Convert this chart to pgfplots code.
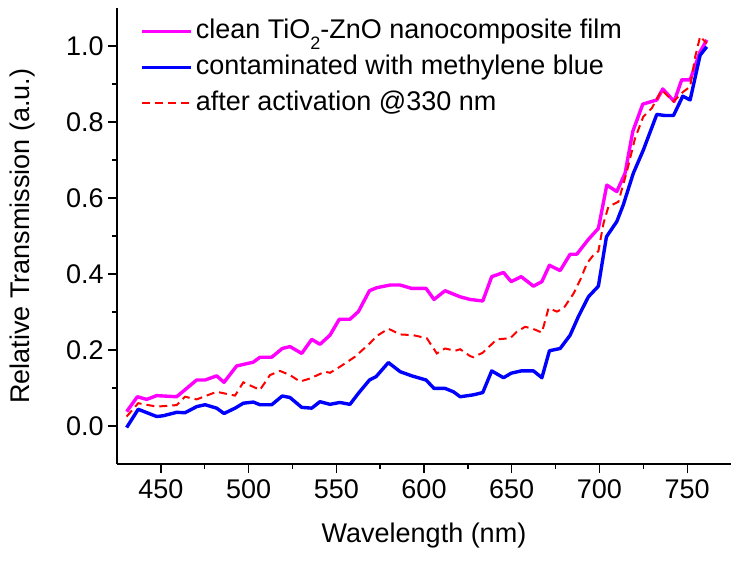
\documentclass[border=0pt]{standalone}
\usepackage{fontspec}
\setmainfont{Liberation Sans}
\usepackage{pgfplots}
\pgfplotsset{compat=1.18}

\definecolor{cleanmag}{RGB}{255,0,255}
\definecolor{mbblue}{RGB}{0,0,255}
\definecolor{actred}{RGB}{255,0,0}

% low-set subscript as in the original figure
\newcommand{\lowsub}[1]{\raisebox{-5.5pt}{\fontsize{9}{9}\selectfont #1}}

\begin{document}
\fontsize{13.5}{16}\selectfont
\begin{tikzpicture}
\begin{axis}[
  name=ax,
  scale only axis, width=307pt, height=228pt,
  xmin=425, xmax=775, ymin=-0.1, ymax=1.1,
  axis x line*=bottom, axis y line*=left,
  axis line style={line width=0.65pt, black},
  every tick/.style={black, line width=0.65pt},
  tick align=outside,
  major tick length=4.5pt, minor tick length=2.5pt,
  xtick={450,500,550,600,650,700,750},
  ytick={0,0.2,0.4,0.6,0.8,1.0},
  minor x tick num=1, minor y tick num=1,
  /pgf/number format/assume math mode=true,
  yticklabel style={/pgf/number format/fixed, /pgf/number format/fixed zerofill,
    /pgf/number format/precision=1, /tikz/inner xsep=2pt},
  xticklabel style={/tikz/inner ysep=3pt},
  tick label style={font=\fontsize{13.5}{16}\selectfont},
  label style={font=\fontsize{13.5}{16}\selectfont},
  xlabel={Wavelength (nm)},
  ylabel={Relative Transmission (a.u.)},
  xlabel style={at={(axis description cs:0.5,-0.156)}, anchor=center},
  ylabel style={at={(axis description cs:-0.1547,0.5)}, anchor=center},
  legend cell align=left,
  legend image code/.code={\draw[#1] (0pt,0pt) -- (24.5pt,0pt);},
  legend style={draw=none, fill=none, inner sep=0pt,
    at={(rel axis cs:0.0375,0.989)}, anchor=north west,
    font=\fontsize{13.5}{16}\selectfont,
    nodes={inner xsep=1.5pt, inner ysep=2.5pt, text height=10pt, text depth=3pt}},
]
% clean film
\addplot[cleanmag, line width=1.7pt, line join=round] coordinates {
(430.5,0.038) (436.6,0.077) (441.9,0.070) (447.6,0.080) (459.0,0.077)
(470.4,0.121) (475.2,0.121) (481.8,0.132) (486.0,0.115) (493.2,0.158)
(502.7,0.168) (506.5,0.181) (513.2,0.181) (519.2,0.204) (523.6,0.209)
(530.3,0.191) (536.0,0.228) (540.7,0.215) (546.4,0.239) (551.7,0.281)
(557.8,0.281) (562.6,0.301) (568.9,0.356) (573.1,0.364) (580.7,0.371)
(586.4,0.371) (593.0,0.362) (601.2,0.362) (605.7,0.333) (612.0,0.356)
(620.6,0.340) (626.3,0.333) (633.5,0.329) (638.6,0.393) (645.3,0.404)
(649.7,0.380) (655.4,0.393) (662.4,0.368) (667.2,0.380) (671.5,0.423)
(677.6,0.409) (683.3,0.452) (687.1,0.452) (693.7,0.491) (699.4,0.520)
(704.2,0.634) (709.9,0.617) (714.6,0.665) (719.0,0.775) (724.7,0.847)
(732.7,0.858) (736.1,0.887) (742.6,0.854) (746.9,0.911) (751.7,0.911)
(757.4,0.985) (761.2,1.016)
};
\addlegendentry{clean TiO\lowsub{2}-ZnO nanocomposite film}
% methylene blue contaminated
\addplot[mbblue, line width=1.7pt, line join=round] coordinates {
(430.5,-0.004) (437.1,0.044) (447.6,0.025) (451.4,0.027) (459.0,0.036)
(463.8,0.035) (470.4,0.051) (475.2,0.056) (481.8,0.047) (486.0,0.033)
(492.3,0.047) (497.0,0.060) (502.7,0.063) (506.5,0.056) (513.2,0.056)
(519.2,0.079) (523.6,0.075) (530.3,0.049) (536.0,0.047) (540.7,0.064)
(546.4,0.057) (552.0,0.062) (557.8,0.057) (562.6,0.086) (568.9,0.121)
(572.7,0.130) (579.7,0.167) (586.4,0.143) (593.0,0.132) (601.2,0.121)
(605.7,0.099) (612.0,0.099) (616.8,0.090) (620.6,0.077) (628.1,0.082)
(633.5,0.088) (638.6,0.145) (645.3,0.127) (649.7,0.139) (655.4,0.145)
(662.4,0.145) (667.2,0.127) (671.5,0.198) (677.6,0.204) (683.3,0.239)
(688.0,0.288) (693.7,0.340) (699.4,0.368) (704.0,0.498) (709.9,0.538)
(713.6,0.582) (719.3,0.665) (725.0,0.726) (732.7,0.820) (737.4,0.817)
(742.2,0.817) (747.5,0.868) (751.7,0.858) (757.4,0.976) (761.2,0.998)
};
\addlegendentry{contaminated with methylene blue}
% after UV activation
\addplot[actred, line width=1pt, dash pattern=on 4pt off 2.5pt] coordinates {
(430.5,0.025) (437.1,0.060) (447.6,0.051) (459.0,0.055) (463.8,0.077)
(470.4,0.070) (481.8,0.090) (492.3,0.080) (497.0,0.115) (506.5,0.095)
(512.2,0.134) (517.9,0.145) (523.6,0.134) (529.3,0.117) (535.0,0.125)
(543.6,0.143) (546.4,0.140) (552.1,0.156) (560.6,0.182) (569.2,0.218)
(573.1,0.237) (579.7,0.256) (586.4,0.241) (593.9,0.239) (601.6,0.231)
(607.3,0.191) (612.0,0.204) (617.7,0.198) (620.6,0.202) (626.3,0.184)
(628.1,0.181) (633.5,0.193) (641.5,0.228) (649.1,0.231) (652.9,0.248)
(657.6,0.261) (661.4,0.257) (667.2,0.246) (671.0,0.310) (675.8,0.301)
(679.6,0.310) (685.3,0.349) (689.1,0.385) (692.9,0.428) (696.6,0.450)
(699.4,0.460) (702.3,0.533) (705.1,0.577) (710.8,0.590) (715.6,0.669)
(720.3,0.757) (725.0,0.814) (729.8,0.836) (735.5,0.884) (742.2,0.854)
(747.9,0.880) (751.7,0.893) (754.6,0.972) (757.4,1.025) (761.2,1.007)
};
\addlegendentry{after activation @330 nm}
\end{axis}
\pgfresetboundingbox
\path ([xshift=-58.5pt,yshift=-49.5pt]ax.south west) rectangle ([yshift=4pt]ax.north east);
\end{tikzpicture}
\end{document}
